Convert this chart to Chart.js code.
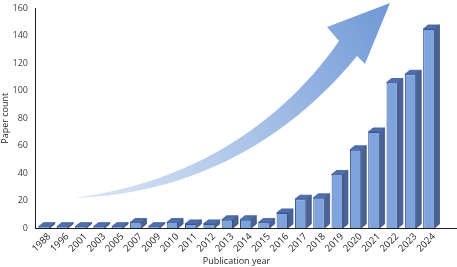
<!DOCTYPE html>
<html>
<head>
<meta charset="utf-8">
<script src="https://cdn.jsdelivr.net/npm/chart.js@4.4.1/dist/chart.umd.min.js"></script>
<style>
  html, body { margin: 0; padding: 0; background: #fff; }
  #wrap { width: 457px; height: 267px; position: relative; }
</style>
</head>
<body>
<div id="wrap"><canvas id="chart"></canvas></div>
<script>
const years = ['1988', '1996', '2001', '2003', '2005', '2007', '2009', '2010', '2011', '2012', '2013',
  '2014', '2015', '2016', '2017', '2018', '2019', '2020', '2021', '2022', '2023', '2024'];
const paperCounts = [1, 1, 1, 1, 1, 4, 1, 4, 3, 3, 6, 6, 4, 11, 21, 22, 39, 57, 70, 106, 112, 145];
const yTicks = [0, 20, 40, 60, 80, 100, 120, 140, 160];

const FONT = 'Open Sans';
const DEPTH_X = 5;
const DEPTH_Y = 4;

// big decorative trend arrow behind the bars
const trendArrow = {
  id: 'trendArrow',
  beforeDatasetsDraw(chart) {
    const ctx = chart.ctx;
    ctx.save();
    const g = ctx.createLinearGradient(73, 198, 390, 3);
    g.addColorStop(0, 'rgba(222,231,246,1)');
    g.addColorStop(0.5, 'rgb(170,195,232)');
    g.addColorStop(1, 'rgb(112,152,214)');
    ctx.fillStyle = g;
    ctx.beginPath();
    ctx.moveTo(73, 198);
    ctx.bezierCurveTo(170, 186, 270, 140, 339, 41);
    ctx.lineTo(327, 27);
    ctx.lineTo(390, 3);
    ctx.lineTo(365, 64);
    ctx.lineTo(357, 56);
    ctx.bezierCurveTo(280, 150, 180, 195, 73, 198);
    ctx.closePath();
    ctx.fill();
    ctx.restore();
  }
};

// top and side faces for the 3D look, plus slanted year labels
const bars3d = {
  id: 'bars3d',
  afterDatasetsDraw(chart) {
    const ctx = chart.ctx;
    const meta = chart.getDatasetMeta(0);
    ctx.save();
    ctx.lineWidth = 0.8;
    meta.data.forEach((bar) => {
      const { x, y, base, width } = bar.getProps(['x', 'y', 'base', 'width'], true);
      const l = x - width / 2, r = x + width / 2;
      // side
      ctx.fillStyle = '#4a6394';
      ctx.strokeStyle = '#3d5585';
      ctx.beginPath();
      ctx.moveTo(r, y);
      ctx.lineTo(r + DEPTH_X, y - DEPTH_Y);
      ctx.lineTo(r + DEPTH_X, base - DEPTH_Y);
      ctx.lineTo(r, base);
      ctx.closePath();
      ctx.fill();
      ctx.stroke();
      // top
      ctx.fillStyle = '#4f6fae';
      ctx.strokeStyle = '#3d5a95';
      ctx.beginPath();
      ctx.moveTo(l, y);
      ctx.lineTo(l + DEPTH_X, y - DEPTH_Y);
      ctx.lineTo(r + DEPTH_X, y - DEPTH_Y);
      ctx.lineTo(r, y);
      ctx.closePath();
      ctx.fill();
      ctx.stroke();
    });
    // x axis line extends past the last category
    const a = chart.chartArea;
    ctx.strokeStyle = '#1a1a1a';
    ctx.lineWidth = 1;
    ctx.beginPath();
    ctx.moveTo(a.left, Math.round(a.bottom) + 0.5);
    ctx.lineTo(chart.width, Math.round(a.bottom) + 0.5);
    ctx.stroke();

    // year labels at 45 degrees
    const xs = chart.scales.x;
    ctx.fillStyle = '#262626';
    ctx.font = `9.5px "${FONT}"`;
    ctx.textAlign = 'right';
    ctx.textBaseline = 'middle';
    years.forEach((yr, i) => {
      const px = xs.getPixelForTick(i);
      ctx.save();
      ctx.translate(px + 5, a.bottom + 7);
      ctx.rotate(-Math.PI / 4);
      ctx.fillText(yr, 0, 0);
      ctx.restore();
    });
    ctx.restore();
  }
};

new Chart(document.getElementById('chart'), {
  type: 'bar',
  data: {
    labels: years,
    datasets: [{
      data: paperCounts,
      backgroundColor: '#7fa3dc',
      borderColor: '#2f4f8f',
      borderWidth: 1,
      barPercentage: 0.62,
      categoryPercentage: 1,
    }],
  },
  options: {
    responsive: true,
    maintainAspectRatio: false,
    animation: false,
    events: [],
    layout: { padding: { top: 4, right: 19, left: 0, bottom: 0 } },
    plugins: {
      legend: { display: false },
      tooltip: { enabled: false },
    },
    scales: {
      x: {
        grid: { display: false, drawTicks: false },
        border: { display: false },
        ticks: { display: false },
        title: {
          display: true,
          text: 'Publication year',
          color: '#262626',
          font: { family: FONT, size: 9 },
          padding: { top: 0, bottom: 0 },
        },
        afterFit(scale) { scale.height = 39; },
      },
      y: {
        min: 0,
        max: 160,
        afterBuildTicks(scale) { scale.ticks = yTicks.map((v) => ({ value: v })); },
        grid: { display: false, drawTicks: true, tickLength: 4, tickColor: '#1a1a1a' },
        border: { display: true, color: '#1a1a1a', width: 1 },
        ticks: {
          color: '#404040',
          font: { family: FONT, size: 9 },
          padding: 3,
        },
        title: {
          display: true,
          text: 'Paper count',
          color: '#262626',
          font: { family: FONT, size: 9 },
          padding: { top: 0, bottom: 1 },
        },
        afterFit(scale) { scale.width = 35; },
      },
    },
  },
  plugins: [trendArrow, bars3d],
});
</script>
</body>
</html>
